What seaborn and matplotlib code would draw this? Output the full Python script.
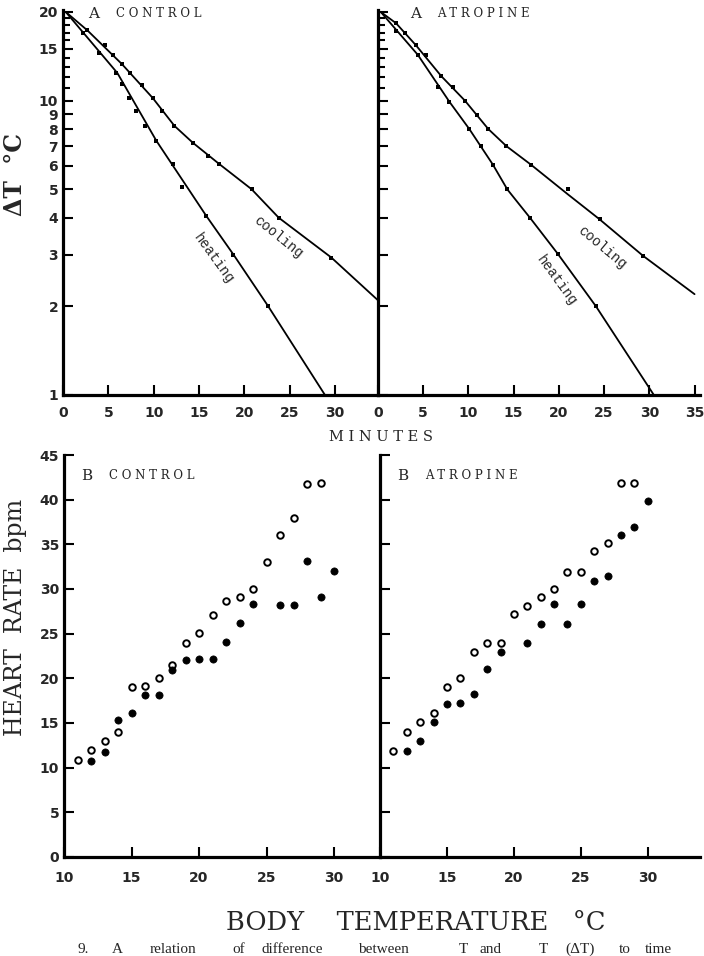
import numpy as np
import pandas as pd
import matplotlib
matplotlib.use("Agg")
import matplotlib.pyplot as plt
import seaborn as sns
from matplotlib.ticker import FixedLocator, NullFormatter

# ---------------- data ----------------
# Panel A control: fitted curves (time, dT) and observed points
ctrl_heat_curve_t = [0.3, 6.0, 10.3, 15.8, 18.8, 22.6, 28.9]
ctrl_heat_curve_dt = [20.0, 12.4, 7.3, 4.06, 3.0, 2.01, 1.0]
ctrl_heat_pts_t = [2.2, 4.0, 5.9, 6.5, 7.3, 8.1, 9.1, 10.3, 12.1, 13.1, 15.8, 18.8, 22.6]
ctrl_heat_pts_dt = [17.0, 14.5, 12.4, 11.4, 10.2, 9.2, 8.2, 7.3, 6.1, 5.1, 4.06, 3.0, 2.01]
ctrl_cool_curve_t = [0.3, 2.7, 6.5, 9.9, 12.3, 14.3, 17.2, 20.8, 23.8, 29.6, 34.8]
ctrl_cool_curve_dt = [20.0, 17.3, 13.3, 10.2, 8.2, 7.2, 6.1, 5.0, 4.0, 2.93, 2.09]
ctrl_cool_pts_t = [2.7, 4.6, 5.5, 6.5, 7.4, 8.7, 9.9, 10.9, 12.3, 14.3, 16.0, 17.2, 20.8, 23.8, 29.6]
ctrl_cool_pts_dt = [17.3, 15.4, 14.3, 13.3, 12.4, 11.3, 10.2, 9.2, 8.2, 7.2, 6.5, 6.1, 5.0, 4.0, 2.93]

# Panel A atropine
atr_heat_curve_t = [0.3, 4.4, 7.9, 10.1, 12.7, 14.3, 16.8, 19.9, 24.1, 30.5]
atr_heat_curve_dt = [20.0, 14.3, 9.9, 8.0, 6.06, 4.99, 4.0, 3.01, 2.0, 1.0]
atr_heat_pts_t = [2.0, 4.4, 6.6, 7.9, 10.1, 11.4, 12.7, 14.3, 16.8, 19.9, 24.1]
atr_heat_pts_dt = [17.2, 14.3, 11.1, 9.9, 8.0, 7.0, 6.06, 4.99, 4.0, 3.01, 2.0]
atr_cool_curve_t = [0.3, 2.0, 4.2, 7.0, 9.6, 12.2, 14.2, 16.9, 21.0, 24.5, 29.3, 35.0]
atr_cool_curve_dt = [20.0, 18.3, 15.4, 12.1, 10.0, 8.0, 7.0, 6.06, 4.8, 3.95, 2.97, 2.2]
atr_cool_pts_t = [2.0, 3.0, 4.2, 5.3, 7.0, 8.3, 9.6, 10.9, 12.2, 14.2, 16.9, 21.0, 24.5, 29.3]
atr_cool_pts_dt = [18.3, 17.0, 15.4, 14.3, 12.1, 11.1, 10.0, 8.95, 8.0, 7.0, 6.06, 4.99, 3.95, 2.97]

# Panel B control: heart rate vs body temperature
ctrl_open_temp = [11, 12, 13, 14, 15, 16, 17, 18, 19, 20, 21, 22, 23, 24, 25, 26, 27, 28, 29]
ctrl_open_hr = [10.9, 12.0, 13.0, 14.0, 19.0, 19.1, 20.0, 21.5, 24.0, 25.1, 27.1, 28.7, 29.1, 30.0,
                33.0, 36.1, 38.0, 41.8, 41.9]
ctrl_fill_temp = [12, 13, 14, 15, 16, 17, 18, 19, 20, 21, 22, 23, 24, 26, 27, 28, 29, 30]
ctrl_fill_hr = [10.8, 11.8, 15.3, 16.1, 18.1, 18.1, 20.9, 22.0, 22.2, 22.2, 24.1, 26.2, 28.3,
                28.2, 28.2, 33.1, 29.1, 32.0]

# Panel B atropine
atr_open_temp = [11, 12, 13, 14, 15, 16, 17, 18, 19, 20, 21, 22, 23, 24, 25, 26, 27, 28, 29]
atr_open_hr = [11.9, 14.0, 15.1, 16.1, 19.0, 20.0, 22.9, 23.9, 24.0, 27.2, 28.1, 29.1, 30.0,
               31.9, 31.9, 34.2, 35.1, 41.9, 41.9]
atr_fill_temp = [12, 13, 14, 15, 16, 17, 18, 19, 21, 22, 23, 24, 25, 26, 27, 28, 29, 30]
atr_fill_hr = [11.9, 13.0, 15.1, 17.1, 17.2, 18.3, 21.1, 22.9, 24.0, 26.1, 28.3, 26.1, 28.3,
               30.9, 31.4, 36.1, 36.9, 39.9]

dt_major = [1, 2, 3, 4, 5, 6, 7, 8, 9, 10, 15, 20]
dt_minor = [11, 12, 13, 14, 16, 17, 18, 19]

caption_words = ["9.", "A", "relation", "of", "difference", "between", "T", "and", "T",
                 "(ΔT)", "to", "time"]

# ---------------- style ----------------
sns.set_style("ticks")
plt.rcParams["font.family"] = ["DejaVu Serif", "Liberation Serif"]
plt.rcParams["mathtext.fontset"] = "dejavuserif"

W, H = 704, 956
fig = plt.figure(figsize=(W / 100, H / 100), dpi=100)


def ax_px(l, r, t, b):
    return fig.add_axes([l / W, 1 - b / H, (r - l) / W, (b - t) / H])


axA1 = ax_px(63, 378, 10, 395)
axA2 = ax_px(378, 700, 10, 395)
axB1 = ax_px(64, 380, 455, 857)
axB2 = ax_px(380, 700, 455, 857)

tick_font = dict(fontsize=10, fontweight="bold", family="DejaVu Sans")


def style_ax(ax):
    for s in ("top", "right"):
        ax.spines[s].set_visible(False)
    for s in ("left", "bottom"):
        ax.spines[s].set_linewidth(2.3)
        ax.spines[s].set_color("black")
    ax.tick_params(which="both", direction="in", color="black", width=1.5)
    ax.tick_params(which="major", length=7)
    ax.tick_params(which="minor", length=5)
    ax.set_facecolor("white")
    ax.set_xlabel("")
    ax.set_ylabel("")
    ax.grid(False)


def panel_A(ax, hc_t, hc_dt, hp_t, hp_dt, cc_t, cc_dt, cp_t, cp_dt, xmax, xticks, label_y):
    for ct, cd in ((hc_t, hc_dt), (cc_t, cc_dt)):
        df = pd.DataFrame({"t": ct, "dt": cd})
        sns.lineplot(data=df, x="t", y="dt", ax=ax, color="black", lw=1.3, sort=False,
                     estimator=None)
    for pt, pd_ in ((hp_t, hp_dt), (cp_t, cp_dt)):
        df = pd.DataFrame({"t": pt, "dt": pd_})
        sns.scatterplot(data=df, x="t", y="dt", ax=ax, color="black", s=7, marker="s",
                        edgecolor="black", linewidth=0)
    ax.set_yscale("log")
    ax.set_xlim(0, xmax)
    ax.set_ylim(1, 20.3)
    ax.yaxis.set_major_locator(FixedLocator(dt_major))
    ax.yaxis.set_minor_locator(FixedLocator(dt_minor))
    ax.yaxis.set_minor_formatter(NullFormatter())
    if label_y:
        ax.set_yticklabels([str(v) for v in dt_major], **tick_font)
    else:
        ax.set_yticklabels([])
    ax.set_xticks(xticks)
    ax.set_xticklabels([str(v) for v in xticks], **tick_font)
    style_ax(ax)
    ax.tick_params(axis="x", pad=8)


panel_A(axA1, ctrl_heat_curve_t, ctrl_heat_curve_dt, ctrl_heat_pts_t, ctrl_heat_pts_dt,
        ctrl_cool_curve_t, ctrl_cool_curve_dt, ctrl_cool_pts_t, ctrl_cool_pts_dt,
        34.75, [0, 5, 10, 15, 20, 25, 30], True)
panel_A(axA2, atr_heat_curve_t, atr_heat_curve_dt, atr_heat_pts_t, atr_heat_pts_dt,
        atr_cool_curve_t, atr_cool_curve_dt, atr_cool_pts_t, atr_cool_pts_dt,
        35.6, [0, 5, 10, 15, 20, 25, 30, 35], False)


def panel_B(ax, ot, ohr, ft, fhr, xmax, label_y):
    dfo = pd.DataFrame({"T": ot, "HR": ohr})
    dff = pd.DataFrame({"T": ft, "HR": fhr})
    sns.scatterplot(data=dfo, x="T", y="HR", ax=ax, s=22, marker="o", facecolor="white",
                    edgecolor="black", linewidth=1.4)
    sns.scatterplot(data=dff, x="T", y="HR", ax=ax, s=27, marker="o", color="black",
                    edgecolor="black", linewidth=0.5)
    ax.set_xlim(10, xmax)
    ax.set_ylim(0, 45)
    yt = list(range(0, 46, 5))
    ax.set_yticks(yt)
    if label_y:
        ax.set_yticklabels([str(v) for v in yt], **tick_font)
    else:
        ax.set_yticklabels([])
    xt = [10, 15, 20, 25, 30]
    ax.set_xticks(xt)
    ax.set_xticklabels([str(v) for v in xt], **tick_font)
    style_ax(ax)
    ax.tick_params(axis="x", pad=10)


panel_B(axB1, ctrl_open_temp, ctrl_open_hr, ctrl_fill_temp, ctrl_fill_hr, 33.4, True)
panel_B(axB2, atr_open_temp, atr_open_hr, atr_fill_temp, atr_fill_hr, 33.9, False)

# panel titles (letter-spaced small capitals)
big = dict(fontsize=11, va="center", ha="left")
small = dict(fontsize=8.5, va="center", ha="left")
axA1.text(2.8, 19.7, "A", **big)
axA1.text(5.9, 19.7, "C O N T R O L", **small)
axA2.text(3.5, 19.7, "A", **big)
axA2.text(6.5, 19.7, "A T R O P I N E", **small)
axB1.text(11.3, 42.7, "B", **big)
axB1.text(13.3, 42.7, "C O N T R O L", **small)
axB2.text(11.3, 42.7, "B", **big)
axB2.text(13.35, 42.7, "A T R O P I N E", **small)

# curve labels
lab_kw = dict(fontsize=10, family="Liberation Mono", ha="center", va="center",
              rotation_mode="anchor")
axA1.text(23.7, 3.44, "cooling", rotation=-39, **lab_kw)
axA1.text(16.6, 2.90, "heating", rotation=-54, **lab_kw)
axA2.text(24.8, 3.16, "cooling", rotation=-40, **lab_kw)
axA2.text(19.8, 2.45, "heating", rotation=-54, **lab_kw)

# axis labels
fig.text(15 / W, 1 - 174 / H, "ΔT  °C", rotation=90, fontsize=17, fontweight="bold",
         ha="center", va="center")
fig.text(381 / W, 1 - 437 / H, "M I N U T E S", fontsize=10.5, ha="center", va="center")
fig.text(16 / W, 1 - 617 / H, "HEART  RATE  bpm", rotation=90, fontsize=17,
         ha="center", va="center")
fig.text(416 / W, 1 - 922 / H, "BODY    TEMPERATURE   °C", fontsize=18.5,
         ha="center", va="center")

# caption at the lower edge (cut off in the original)
caption_x = [78, 112, 150, 232, 262, 358, 459, 480, 539, 565, 619, 645]
for w, x in zip(caption_words, caption_x):
    fig.text(x / W, 1 - 953 / H, w, fontsize=11, family="Liberation Serif",
             ha="left", va="baseline")

fig.savefig("out.png", dpi=100, facecolor="white")
